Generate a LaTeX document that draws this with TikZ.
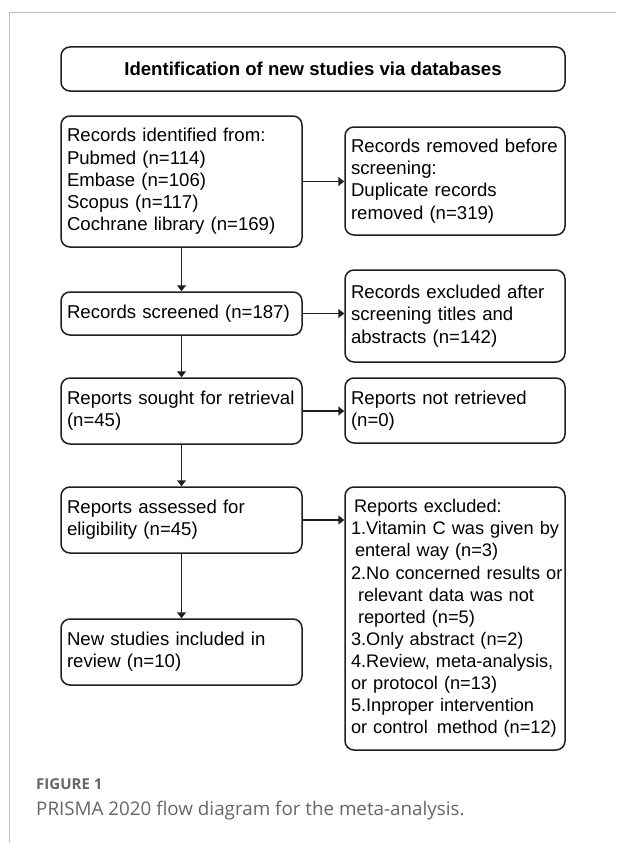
\documentclass[tikz,border=0pt]{standalone}
\usepackage{fontspec}
\setmainfont{Liberation Sans}
\newfontfamily\capfont{Open Sans}
\usetikzlibrary{arrows.meta,positioning}

\begin{document}
\begin{tikzpicture}[x=1pt, y=-1pt,
    box/.style={draw=black!88, line width=1.5pt, rounded corners=9pt, align=left, inner xsep=6pt, inner ysep=0pt, font=\fontsize{18.6}{22.2}\selectfont},
    lbox/.style={box, text width=229pt, minimum height=#1},
    rbox/.style={box, text width=208pt, minimum height=#1},
    arr/.style={-{Triangle[length=6pt, width=9pt]}, line width=1.5pt, draw=black!88}
]
\useasboundingbox (0,0) rectangle (616,843);
\draw[black!25, line width=1pt] (616,13) -- (9,13) -- (9,843);

\node[box, align=center, minimum width=504pt, minimum height=44pt, font=\bfseries\fontsize{18.6}{22.2}\selectfont] (head) at (313,69) {Identification of new studies via databases};

% left column
\node[lbox=131pt] (ident) at (181.5,181.5) {Records identified from:\\Pubmed (n=114)\\Embase (n=106)\\Scopus (n=117)\\Cochrane library (n=169)};
\node[lbox=43pt] (screened) at (181.5,313.5) {Records screened (n=187)};
\node[lbox=66pt] (sought) at (181.5,411) {Reports sought for retrieval\\(n=45)};
\node[lbox=66pt] (assessed) at (181.5,520) {Reports assessed for\\eligibility (n=45)};
\node[lbox=66pt] (included) at (181.5,652) {New studies included in\\review (n=10)};

% right column
\node[rbox=108pt] (removed) at (455,181) {\mbox{Records removed before}\\screening:\\Duplicate records\\removed (n=319)};
\node[rbox=92pt] (excluded) at (455,316) {Records excluded after\\screening titles and\\abstracts (n=142)};
\node[rbox=65pt] (notretr) at (455,410.5) {Reports not retrieved\\(n=0)};
\node[rbox=263pt, font=\fontsize{18.2}{22.1}\selectfont] (repexcl) at (455,618.5) {\hspace*{3pt}Reports excluded:\\\mbox{1.Vitamin C was given by}\\\hspace*{4pt}enteral way (n=3)\\\mbox{2.No concerned results or}\\\hspace*{7pt}relevant data was not\\\hspace*{7pt}reported (n=5)\\3.Only abstract (n=2)\\4.Review, meta-analysis,\\or protocol (n=13)\\5.Inproper intervention\\\mbox{or control\hspace{3pt} method (n=12)}};

\draw[arr] (ident) -- (screened);
\draw[arr] (screened) -- (sought);
\draw[arr] (sought) -- (assessed);
\draw[arr] (assessed) -- (included);
\draw[arr] (ident.east) -- (ident.east -| removed.west);
\draw[arr] (screened.east) -- (screened.east -| excluded.west);
\draw[arr] (sought.east) -- (sought.east -| notretr.west);
\draw[arr] (assessed.east) -- (assessed.east -| repexcl.west);

% caption
\node[anchor=base west, inner sep=0pt, text=black!60, font=\capfont\bfseries\fontsize{15}{17}\selectfont] (fignum) at (36,789) {FIGURE 1};
\node[anchor=base west, inner sep=0pt, text=black!60, font=\capfont\fontsize{18.8}{21}\selectfont] (figcap) at (36,815) {PRISMA 2020 flow diagram for the meta-analysis.};
\end{tikzpicture}
\end{document}
